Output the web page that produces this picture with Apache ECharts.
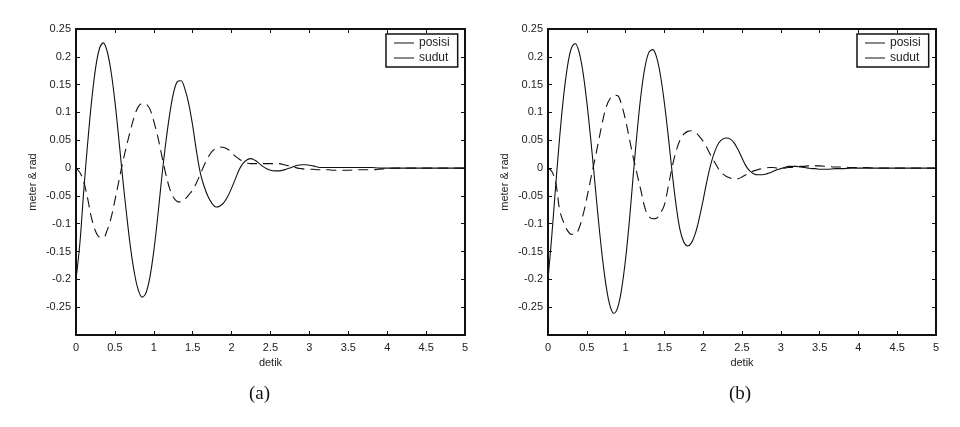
<!DOCTYPE html>
<html>
<head>
<meta charset="utf-8">
<script src="https://cdn.jsdelivr.net/npm/echarts@6/dist/echarts.min.js"></script>
<style>
html,body{margin:0;padding:0;background:#fff;}
#chart{width:960px;height:427px;}
</style>
</head>
<body>
<div id="chart"></div>
<script>
// time (detik)
var times = [
  0,0.05,0.1,0.15,0.2,0.25,0.3,0.35,0.4,0.45,
  0.5,0.55,0.6,0.65,0.7,0.75,0.8,0.85,0.9,0.95,
  1.0,1.05,1.1,1.15,1.2,1.25,1.3,1.35,1.4,1.45,
  1.5,1.55,1.6,1.65,1.7,1.75,1.8,1.85,1.9,1.95,
  2.0,2.05,2.1,2.15,2.2,2.25,2.3,2.35,2.4,2.45,
  2.5,2.55,2.6,2.65,2.7,2.75,2.8,2.85,2.9,2.95,
  3.0,3.05,3.1,3.15,3.2,3.25,3.3,3.35,3.4,3.45,
  3.5,3.6,3.7,3.8,3.9,4.0,4.1,4.2,4.3,4.4,4.5,4.6,4.7,4.8,4.9,5.0
];
// panel (a)
var posisiA = [
  -0.200,-0.135,-0.040,0.045,0.120,0.178,0.214,0.225,0.210,0.174,
  0.120,0.053,-0.018,-0.083,-0.142,-0.188,-0.219,-0.232,-0.224,-0.196,
  -0.149,-0.088,-0.020,0.041,0.093,0.133,0.155,0.157,0.142,0.115,
  0.076,0.029,-0.010,-0.034,-0.052,-0.064,-0.070,-0.068,-0.062,-0.051,
  -0.036,-0.019,-0.002,0.009,0.015,0.017,0.014,0.009,0.003,-0.001,
  -0.004,-0.005,-0.005,-0.004,-0.002,0.000,0.003,0.005,0.006,0.006,
  0.005,0.004,0.002,0.001,0.001,0.001,0.001,0.001,0.001,0.001,
  0.001,0.001,0.001,0.001,0,0,0,0,0,0,0,0,0,0,0,0
];
var sudutA = [
  0.000,-0.008,-0.025,-0.055,-0.090,-0.113,-0.124,-0.125,-0.112,-0.090,
  -0.058,-0.024,0.010,0.040,0.068,0.093,0.110,0.116,0.115,0.106,
  0.084,0.057,0.024,-0.008,-0.035,-0.052,-0.060,-0.061,-0.056,-0.048,
  -0.039,-0.026,-0.010,0.006,0.020,0.030,0.036,0.038,0.037,0.034,
  0.028,0.021,0.016,0.012,0.009,0.008,0.008,0.008,0.008,0.008,
  0.008,0.008,0.008,0.007,0.005,0.004,0.002,0.000,-0.001,-0.002,
  -0.002,-0.002,-0.003,-0.003,-0.003,-0.003,-0.004,-0.004,-0.004,-0.004,
  -0.004,-0.003,-0.003,-0.003,-0.002,-0.001,0,0,0,0,0,0,0,0,0,0
];
// panel (b)
var posisiB = [
  -0.200,-0.120,-0.030,0.055,0.128,0.182,0.215,0.224,0.209,0.173,
  0.119,0.053,-0.020,-0.094,-0.160,-0.213,-0.248,-0.261,-0.250,-0.216,
  -0.163,-0.093,-0.010,0.067,0.134,0.182,0.208,0.213,0.199,0.166,
  0.117,0.057,-0.008,-0.066,-0.110,-0.133,-0.140,-0.134,-0.117,-0.090,
  -0.057,-0.022,0.008,0.030,0.045,0.052,0.054,0.052,0.045,0.033,
  0.018,0.004,-0.005,-0.010,-0.012,-0.012,-0.011,-0.009,-0.006,-0.003,
  -0.001,0.001,0.003,0.003,0.003,0.002,0.001,0.000,-0.001,-0.001,
  -0.002,-0.002,-0.001,-0.001,0,0,0,0,0,0,0,0,0,0,0,0
];
var sudutB = [
  0.000,-0.006,-0.026,-0.075,-0.097,-0.112,-0.119,-0.119,-0.108,-0.085,
  -0.054,-0.020,0.013,0.047,0.082,0.110,0.125,0.131,0.130,0.113,
  0.086,0.052,0.018,-0.012,-0.042,-0.072,-0.087,-0.091,-0.090,-0.081,
  -0.066,-0.033,0.002,0.030,0.050,0.061,0.066,0.067,0.064,0.057,
  0.048,0.036,0.022,0.010,-0.002,-0.010,-0.015,-0.018,-0.020,-0.019,
  -0.016,-0.012,-0.008,-0.005,-0.003,-0.001,0.000,0.001,0.001,0.000,
  0.000,0.000,0.001,0.001,0.002,0.003,0.003,0.004,0.004,0.004,
  0.004,0.003,0.002,0.002,0.001,0.001,0.001,0,0,0,0,0,0,0,0,0
];
var seriesNames = ['posisi', 'sudut'];
var panelLabels = ['(a)', '(b)'];
var xLabel = 'detik';
var yLabel = 'meter & rad';
var xMin = 0, xMax = 5, xStep = 0.5;
var yMin = -0.3, yMax = 0.25, yStep = 0.05;

function pairs(ys) { return times.map(function (t, i) { return [t, ys[i]]; }); }
function fmt(v) {
  if (Math.abs(v - yMin) < 1e-9) return '';
  var r = Math.round(v * 100) / 100;
  return String(r);
}

var FONT = 'Liberation Sans, Arial, sans-serif';
var grids = [
  { left: 76, top: 29, width: 389, height: 306 },
  { left: 548, top: 29, width: 388, height: 306 }
];
var legendLeft = [386, 857];
var captionX = [263, 743];

var xAxes = [], yAxes = [], series = [], legends = [], graphics = [];
var panels = [[posisiA, sudutA], [posisiB, sudutB]];

for (var g = 0; g < 2; g++) {
  xAxes.push({
    type: 'value', gridIndex: g, min: xMin, max: xMax, interval: xStep, position: 'bottom',
    name: xLabel, nameLocation: 'middle', nameGap: 22,
    nameTextStyle: { fontFamily: FONT, fontSize: 11, color: '#222' },
    axisLine: { show: true, onZero: false, lineStyle: { color: '#111', width: 2 } },
    axisTick: { show: true, inside: true, length: 4, lineStyle: { color: '#111' } },
    axisLabel: { fontFamily: FONT, fontSize: 11, color: '#222', margin: 7,
      formatter: function (v) { return String(Math.round(v * 10) / 10); } },
    splitLine: { show: false }
  });
  xAxes.push({
    type: 'value', gridIndex: g, min: xMin, max: xMax, interval: xStep, position: 'top',
    axisLine: { show: true, onZero: false, lineStyle: { color: '#111', width: 2 } },
    axisTick: { show: true, inside: true, length: 4, lineStyle: { color: '#111' } },
    axisLabel: { show: false }, splitLine: { show: false }
  });
  yAxes.push({
    type: 'value', gridIndex: g, min: yMin, max: yMax, interval: yStep, position: 'left',
    name: yLabel, nameLocation: 'middle', nameGap: 38, nameRotate: 90,
    nameTextStyle: { fontFamily: FONT, fontSize: 11, color: '#222' },
    axisLine: { show: true, onZero: false, lineStyle: { color: '#111', width: 2 } },
    axisTick: { show: true, inside: true, length: 4, lineStyle: { color: '#111' } },
    axisLabel: { fontFamily: FONT, fontSize: 11, color: '#222', margin: 5, formatter: fmt },
    splitLine: { show: false }
  });
  yAxes.push({
    type: 'value', gridIndex: g, min: yMin, max: yMax, interval: yStep, position: 'right',
    axisLine: { show: true, onZero: false, lineStyle: { color: '#111', width: 2 } },
    axisTick: { show: true, inside: true, length: 4, lineStyle: { color: '#111' } },
    axisLabel: { show: false }, splitLine: { show: false }
  });
  series.push({
    name: seriesNames[0], id: 'p' + g, type: 'line', xAxisIndex: 2 * g, yAxisIndex: 2 * g,
    data: pairs(panels[g][0]), symbol: 'none', smooth: 0.35,
    lineStyle: { color: '#111', width: 1.1, type: 'solid' }, itemStyle: { color: '#111' }
  });
  series.push({
    name: seriesNames[1], id: 's' + g, type: 'line', xAxisIndex: 2 * g, yAxisIndex: 2 * g,
    data: pairs(panels[g][1]), symbol: 'none', smooth: 0.35,
    lineStyle: { color: '#111', width: 1.1, type: [10, 6] }, itemStyle: { color: '#111' }
  });
  graphics.push({
    type: 'text', left: captionX[g] - 14, top: 385,
    style: { text: panelLabels[g], font: '19px "Liberation Serif", "Times New Roman", serif', fill: '#111' }
  });
  legends.push({
    left: legendLeft[g], top: 34, orient: 'vertical',
    data: seriesNames.slice(),
    icon: 'rect', itemWidth: 20, itemHeight: 1,
    itemStyle: { color: '#111' },
    borderColor: '#111', borderWidth: 1.5, padding: [2, 8, 2, 8], itemGap: 1,
    backgroundColor: '#fff',
    textStyle: { fontFamily: FONT, fontSize: 12, color: '#222', lineHeight: 14 }
  });
}

var chart = echarts.init(document.getElementById('chart'), null, { renderer: 'canvas' });
chart.setOption({
  animation: false,
  backgroundColor: '#fff',
  grid: grids,
  xAxis: xAxes,
  yAxis: yAxes,
  series: series,
  legend: legends,
  graphic: graphics
});
</script>
</body>
</html>
